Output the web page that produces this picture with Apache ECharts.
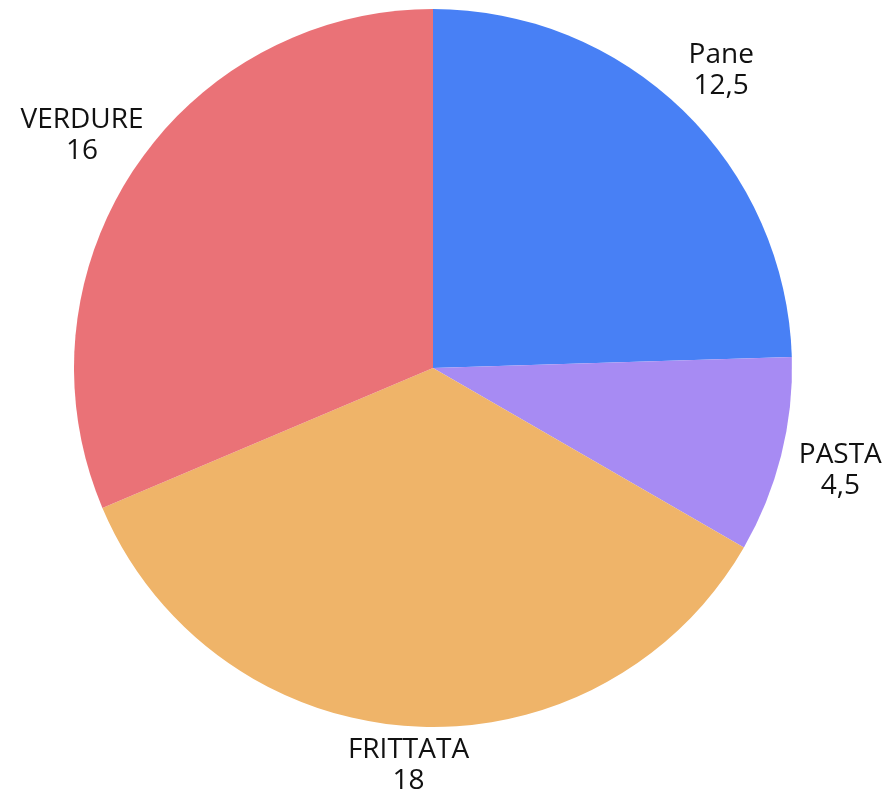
<!DOCTYPE html>
<html><head><meta charset="utf-8">
<script src="https://cdn.jsdelivr.net/npm/echarts@6/dist/echarts.min.js"></script>
<style>html,body{margin:0;padding:0;background:#fff}#c{width:885px;height:802px}</style>
</head><body><div id="c"></div>
<script>
const categories = ['Pane', 'PASTA', 'FRITTATA', 'VERDURE'];
const values = [12.5, 4.5, 18, 16];
const colors = ['#4880F5', '#A78BF3', '#EFB469', '#EA7277'];
// label distance from center (layout config)
const labelDist = [414, 420, 398, 421];

const CX = 433, CY = 368, R = 359;
const total = values.reduce((a, b) => a + b, 0);
const midAngles = [];
let acc = 0;
values.forEach(v => { midAngles.push((acc + v / 2) / total * 2 * Math.PI); acc += v; });

const chart = echarts.init(document.getElementById('c'));
chart.setOption({
  animation: false,
  series: [{
    type: 'pie',
    center: [CX, CY],
    radius: [0, R],
    startAngle: 90,
    clockwise: true,
    data: categories.map((n, i) => ({ name: n, value: values[i], itemStyle: { color: colors[i] } })),
    label: {
      show: true,
      position: 'outside',
      overflow: 'none',
      fontFamily: 'Open Sans',
      fontSize: 28,
      lineHeight: 31,
      color: '#111',
      formatter: p => p.name + '\n' + String(p.value).replace('.', ',')
    },
    labelLine: { show: false },
    labelLayout: p => {
      const a = midAngles[p.dataIndex], d = labelDist[p.dataIndex];
      return { x: CX + d * Math.sin(a), y: CY - d * Math.cos(a), align: 'center', verticalAlign: 'middle' };
    },
    emphasis: { disabled: true }
  }]
});
</script></body></html>
